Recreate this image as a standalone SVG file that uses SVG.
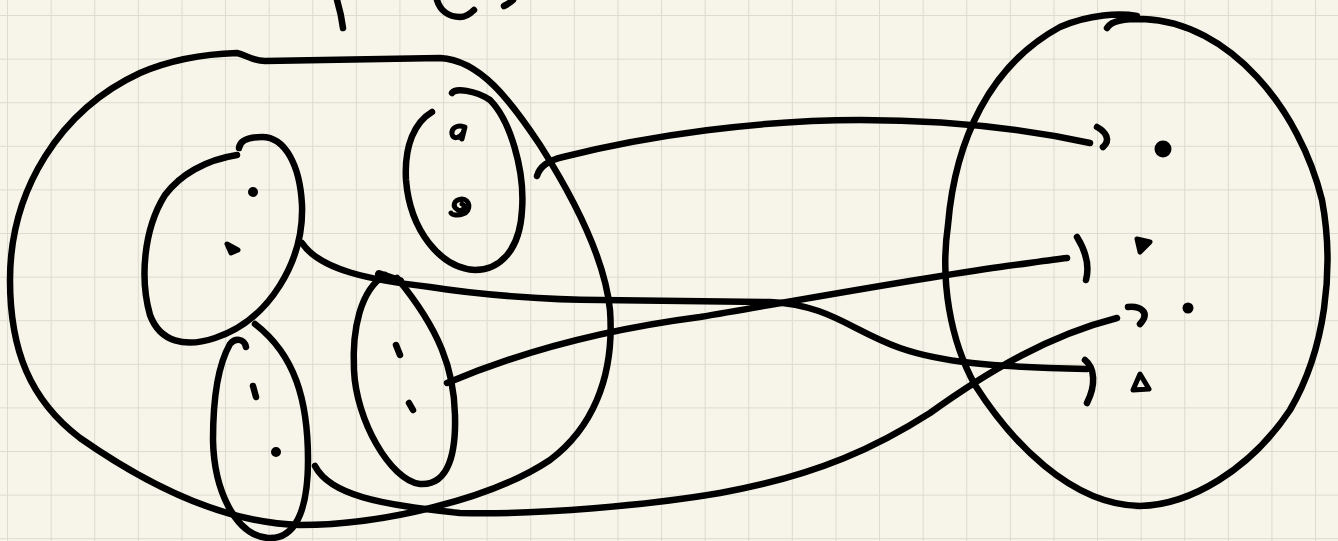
<svg xmlns="http://www.w3.org/2000/svg" width="1338" height="541" viewBox="0 0 1338 541">
  <defs>
    <pattern id="grid" patternUnits="userSpaceOnUse" x="7" y="15" width="43.6" height="43.6">
      <path d="M0 0.5 H43.6 M0.5 0 V43.6" fill="none" stroke="#dcdbcf" stroke-width="1.1"/>
    </pattern>
    <style>
      .ink{fill:none;stroke:#000;stroke-width:6.5;stroke-linecap:round;stroke-linejoin:round}
      .dot{fill:#000;stroke:#000;stroke-width:5;stroke-linecap:round;stroke-linejoin:round}
      .loop{fill:none;stroke:#000;stroke-width:5;stroke-linecap:round;stroke-linejoin:round}
    </style>
  </defs>
  <rect width="1338" height="541" fill="#f7f5ea"/>
  <rect width="1338" height="541" fill="url(#grid)"/>

  <g id="top-fragments">
    <path class="ink" d="M337 0 C340 10, 342 20, 343 28"/>
    <path class="ink" d="M437 0 C440 10, 448 17, 460 17 C467 17, 471 13, 474 10"/>
    <path class="ink" d="M504 6 C508 4, 511 2, 513 0"/>
  </g>

  <g id="outer-set">
    <path class="ink" d="M237 53 C247 55, 252 61, 265 61 L440 58 C480 60, 510 100, 540 145 C575 200, 605 260, 610 310 C615 380, 590 430, 550 460 C490 500, 380 525, 300 525 C220 523, 140 480, 80 438 C30 400, 10 350, 10 280 C10 190, 60 110, 140 73 C170 60, 205 54, 237 53 Z"/>
  </g>

  <g id="subset-a">
    <path class="ink" d="M239 148 C240 140, 250 137, 262 137 C285 137, 300 165, 302 205 C304 260, 270 320, 215 338 C185 348, 160 342, 150 315 C140 280, 143 230, 165 195 C180 175, 205 160, 237 155"/>
    <circle class="dot" cx="253" cy="192" r="2.5"/>
    <path class="dot" d="M227 244 L238 250 L231 253 Z"/>
  </g>

  <g id="subset-b">
    <path class="ink" d="M452 93 C455 88, 475 90, 490 100 C510 120, 525 170, 522 210 C520 250, 500 270, 475 270 C440 268, 410 230, 406 180 C404 145, 415 122, 432 112"/>
    <path class="loop" d="M464 127 C458 124, 451 128, 452 134 C453 139, 459 139, 463 133 L465 127 L462 139"/>
    <path class="loop" d="M462 204 C467 206, 463 212, 458 210 C452 207, 453 200, 462 199 C470 199, 472 211, 463 214 C458 216, 452 215, 451 213"/>
  </g>

  <g id="subset-c">
    <path class="ink" d="M246 347 C244 338, 235 338, 230 344 C218 365, 213 400, 213 440 C214 490, 235 535, 268 538 C300 540, 308 500, 308 460 C308 400, 295 355, 255 324"/>
    <path class="ink" d="M253 386 L256 397"/>
    <circle class="dot" cx="276" cy="452" r="2.5"/>
  </g>

  <g id="subset-d">
    <path class="ink" d="M385 275 C360 290, 352 330, 354 370 C356 420, 390 480, 420 484 C450 486, 456 450, 455 415 C454 370, 440 330, 397 278"/>
    <path class="ink" style="stroke-width:8" d="M379 274 L400 281"/>
    <path class="ink" d="M396 345 L400 355"/>
    <path class="ink" d="M409 403 L413 410"/>
  </g>

  <g id="codomain">
    <path class="ink" d="M1107 28 C1112 20, 1125 19, 1143 19 C1230 22, 1300 110, 1322 200 C1335 270, 1325 350, 1290 410 C1250 470, 1190 505, 1140 506 C1070 505, 1010 440, 975 385 C950 340, 940 280, 948 225 C955 140, 990 65, 1060 27 C1090 14, 1120 13, 1137 16"/>
    <path class="ink" d="M1097 127 C1106 132, 1111 140, 1103 147"/>
    <circle class="dot" cx="1163" cy="149" r="6"/>
    <path class="ink" d="M1077 237 C1085 250, 1090 265, 1086 280"/>
    <path class="dot" d="M1137 239 L1150 242 L1140 252 Z"/>
    <path class="ink" d="M1128 307 C1140 306, 1151 312, 1140 324"/>
    <circle class="dot" cx="1188" cy="308" r="3"/>
    <path class="ink" d="M1085 360 C1095 368, 1096 385, 1087 403"/>
    <path class="loop" d="M1140 374 L1149 389 L1133 390 Z"/>
  </g>

  <g id="connectors">
    <path class="ink" d="M537 176 C540 165, 550 160, 563 157 C650 135, 760 120, 860 120 C950 120, 1030 130, 1090 143"/>
    <path class="ink" d="M302 243 C320 270, 370 280, 430 287 C480 295, 550 300, 600 300 L770 302 C830 305, 850 330, 900 348 C940 362, 990 367, 1087 369"/>
    <path class="ink" d="M447 383 C520 352, 600 330, 700 317 C800 300, 920 278, 1000 267 C1030 263, 1050 260, 1067 258"/>
    <path class="ink" d="M315 466 C330 495, 380 505, 460 513 C540 515, 650 505, 720 493 C820 475, 880 445, 930 413 C990 370, 1050 335, 1117 318"/>
  </g>
</svg>
